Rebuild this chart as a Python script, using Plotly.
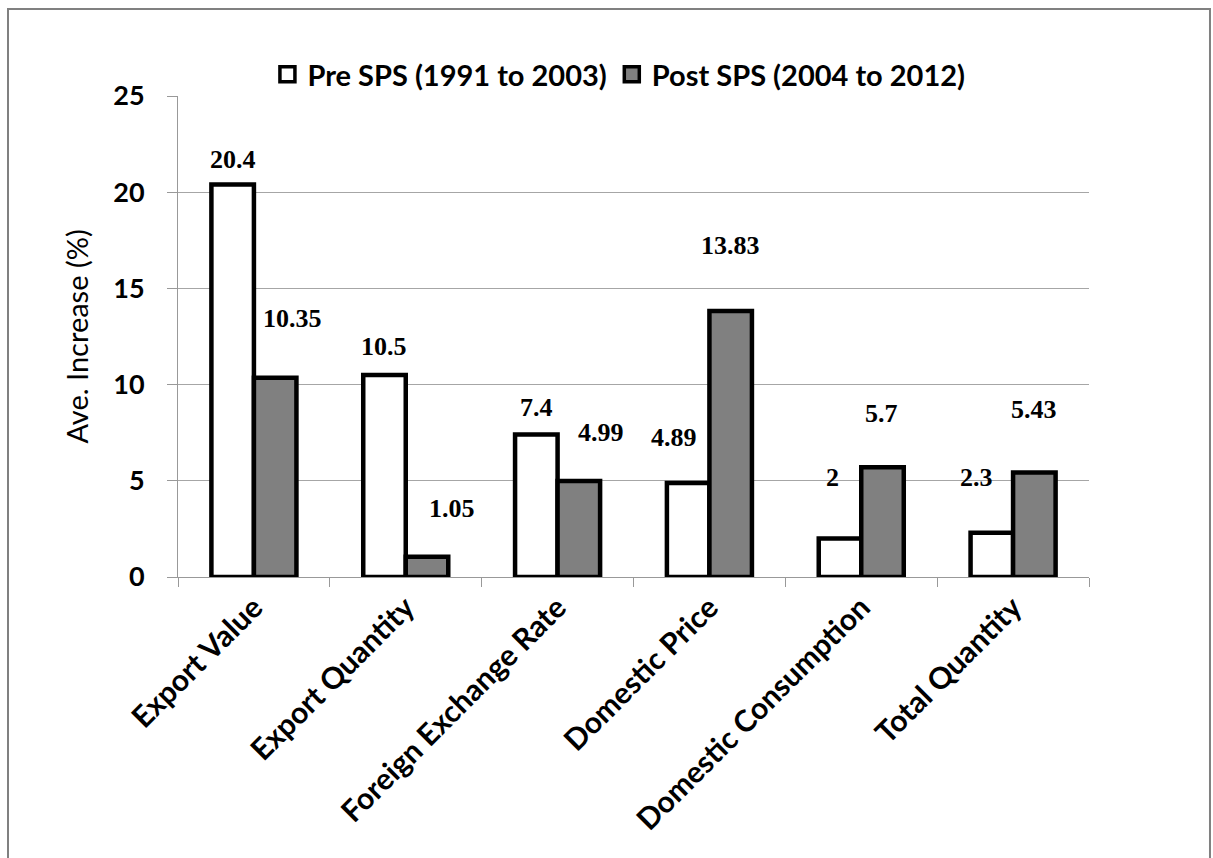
import plotly.graph_objects as go

# Average annual increase (%) before and after SPS
categories = ["Export Value", "Export Quantity", "Foreign Exchange Rate",
              "Domestic Price", "Domestic Consumption", "Total Quantity"]
pre_sps = [20.4, 10.5, 7.4, 4.89, 2, 2.3]
post_sps = [10.35, 1.05, 4.99, 13.83, 5.7, 5.43]
series_names = ["Pre SPS (1991 to 2003)", "Post SPS (2004 to 2012)"]
y_ticks = [0, 5, 10, 15, 20, 25]

# label placement nudges (pixels) for the value labels
pre_label_dx = [0, 0, 0, -14, -7, -15]
pre_label_dy = [25, 28, 27, 45, 61, 55]
post_label_dx = [17, 25, 22, 0, -1, 0]
post_label_dy = [59, 48, 48, 65, 54, 63]

BARGAP = 0.44
SANS = "Lato"
SERIF = "Liberation Serif"
FILLS = ["#ffffff", "#808080"]

fig = go.Figure()
for name, vals, fill in zip(series_names, (pre_sps, post_sps), FILLS):
    fig.add_trace(go.Bar(
        x=categories, y=vals, name=name, legendgroup=name, showlegend=False,
        marker=dict(color=fill, line=dict(color="#000000", width=4.5)),
    ))
# legend keys: square swatches with a heavy black outline
for name, fill in zip(series_names, FILLS):
    fig.add_trace(go.Scatter(
        x=[None], y=[None], mode="markers", name=name, legendgroup=name,
        marker=dict(symbol="square", size=15, color=fill,
                    line=dict(color="#000000", width=3.5)),
    ))

# value labels above each bar
half = (1 - BARGAP) / 4
annotations = []
for vals, dxs, dys, sign in ((pre_sps, pre_label_dx, pre_label_dy, -1),
                             (post_sps, post_label_dx, post_label_dy, 1)):
    for i, v in enumerate(vals):
        annotations.append(dict(
            x=i + sign * half, y=v, xref="x", yref="y",
            text=f"<b>{v:g}</b>", showarrow=False,
            xshift=dxs[i], yshift=dys[i],
            xanchor="center", yanchor="middle",
            font=dict(family=SERIF, size=26, color="#000000"),
        ))

fig.update_layout(
    width=1213, height=858,
    margin=dict(l=178, r=124, t=96, b=281),
    paper_bgcolor="#ffffff", plot_bgcolor="#ffffff",
    barmode="group", bargap=BARGAP, bargroupgap=0,
    font=dict(family=SANS, size=24, color="#000000"),
    showlegend=True,
    legend=dict(
        orientation="h", x=0.484, xanchor="center", y=1.045, yanchor="middle",
        font=dict(family=SANS, size=29, color="#000000", weight="bold"),
        itemwidth=30, bgcolor="rgba(0,0,0,0)", tracegroupgap=0,
    ),
    annotations=annotations,
    shapes=[dict(
        type="rect", xref="paper", yref="paper",
        x0=-0.1866, x1=1.1328, y0=-0.7, y1=1.181,
        line=dict(color="#808080", width=2), fillcolor="rgba(0,0,0,0)",
        layer="below",
    )],
)

fig.update_xaxes(
    type="category", tickangle=-45, tickson="boundaries",
    ticks="outside", ticklen=9, tickcolor="#999999", tickwidth=1,
    showline=True, linecolor="#999999", linewidth=1,
    showgrid=False, zeroline=False,
    tickfont=dict(family=SANS, size=30, color="#000000", weight="bold"),
)
fig.update_yaxes(
    range=[0, 25], tickvals=y_ticks, ticktext=[str(t) for t in y_ticks],
    ticks="outside", ticklen=10, tickcolor="#999999", tickwidth=1,
    showline=True, linecolor="#999999", linewidth=1,
    showgrid=True, gridcolor="#a6a6a6", gridwidth=1, zeroline=False,
    ticklabelstandoff=17,
    tickfont=dict(family=SANS, size=27, color="#000000", weight="bold"),
    title=dict(text="Ave. Increase (%)", standoff=16,
               font=dict(family=SANS, size=29, color="#000000")),
)

fig.write_html("out.html")
